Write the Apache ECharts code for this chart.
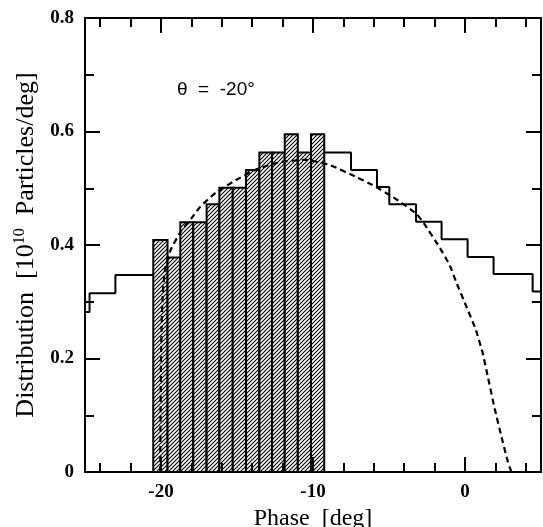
<!DOCTYPE html>
<html>
<head>
<meta charset="utf-8">
<script src="https://cdn.jsdelivr.net/npm/echarts@6/dist/echarts.min.js"></script>
<style>
html, body { margin: 0; padding: 0; background: #fff; }
#chart { width: 543px; height: 527px; }
</style>
</head>
<body>
<div id="chart"></div>
<script>
// hatched histogram: bin edges (deg) and heights
var barEdges = [-20.51, -19.57, -18.73, -17.88, -17.0, -16.16, -15.28, -14.41, -13.53, -12.69, -11.86, -11.0, -10.13, -9.26];
var barHeights = [0.409, 0.378, 0.440, 0.440, 0.472, 0.501, 0.501, 0.532, 0.563, 0.563, 0.595, 0.563, 0.595];

// solid histogram, part left of the hatched bins
var leftEdges = [-25, -24.7, -23.0, -20.51];
var leftHeights = [0.282, 0.315, 0.347];
// solid histogram, part right of the hatched bins
var rightEdges = [-9.26, -7.5, -5.79, -4.98, -3.22, -1.54, 0.17, 1.88, 4.45, 5];
var rightHeights = [0.563, 0.532, 0.502, 0.472, 0.441, 0.410, 0.379, 0.349, 0.318];

// dashed curve
var curveX = [-20.05, -20.03, -20.0, -19.95, -19.87, -19.75, -19.55, -19.34, -18.7, -18.0, -17.4, -16.4, -15.1, -13.75, -12.2, -10.5, -8.9, -7.1, -6.1, -4.6, -3.2, -2.7, -1.7, -1.0, -0.6, 0.07, 0.72, 1.16, 1.5, 1.95, 2.4, 2.8, 3.05];
var curveY = [0, 0.1, 0.2, 0.27, 0.32, 0.355, 0.377, 0.393, 0.424, 0.447, 0.468, 0.492, 0.514, 0.533, 0.546, 0.55, 0.541, 0.519, 0.506, 0.482, 0.455, 0.438, 0.397, 0.364, 0.336, 0.293, 0.25, 0.21, 0.168, 0.112, 0.062, 0.02, 0];

var minorTicks = [-24, -22, -20, -18, -16, -14, -12, -10, -8, -6, -4, -2, 0, 2, 4];
var majorTicks = [-20, -10, 0];

var serif = 'Liberation Serif';

// hatch pattern "/"
var hatch = document.createElement('canvas');
hatch.width = 4;
hatch.height = 4;
var hc = hatch.getContext('2d');
hc.fillStyle = '#fff';
hc.fillRect(0, 0, 4, 4);
hc.strokeStyle = '#000';
hc.lineWidth = 1.1;
hc.beginPath();
hc.moveTo(0, 4); hc.lineTo(4, 0);
hc.moveTo(-1, 1); hc.lineTo(1, -1);
hc.moveTo(3, 5); hc.lineTo(5, 3);
hc.stroke();
var hatchFill = { image: hatch, repeat: 'repeat' };

function steps(edges, heights) {
  var pts = [];
  for (var i = 0; i < heights.length; i++) {
    pts.push([edges[i], heights[i]]);
    pts.push([edges[i + 1], heights[i]]);
  }
  return pts;
}

var bars = [];
for (var i = 0; i < barHeights.length; i++) {
  bars.push([barEdges[i], barEdges[i + 1], barHeights[i]]);
}
var curve = curveX.map(function (x, i) { return [x, curveY[i]]; });

var chart = echarts.init(document.getElementById('chart'));

function xAx(pos, ticks, len, labels, main) {
  return {
    type: 'value', position: pos, min: -25, max: 5, z: 10,
    axisLine: { show: main, onZero: false, lineStyle: { color: '#000', width: 2 } },
    axisTick: { show: true, inside: true, length: len, customValues: ticks, lineStyle: { color: '#000', width: 2 } },
    axisLabel: labels ? {
      show: true, customValues: majorTicks, margin: 11,
      color: '#000', fontFamily: serif, fontWeight: 'bold', fontSize: 19
    } : { show: false },
    splitLine: { show: false },
    name: labels ? 'Phase  [deg]' : '',
    nameLocation: 'middle', nameGap: 27,
    nameTextStyle: { color: '#000', fontFamily: serif, fontSize: 24 }
  };
}

function yAx(pos, labels) {
  return {
    type: 'value', position: pos, min: 0, max: 0.8, interval: 0.2, z: 10,
    axisLine: { show: true, onZero: false, lineStyle: { color: '#000', width: 2 } },
    axisTick: { show: true, inside: true, length: 15, lineStyle: { color: '#000', width: 2 } },
    minorTick: { show: true, splitNumber: 2, length: 9, lineStyle: { color: '#000', width: 2 } },
    axisLabel: labels ? {
      show: true, margin: 11, color: '#000', fontFamily: serif, fontWeight: 'bold', fontSize: 19
    } : { show: false },
    splitLine: { show: false },
    minorSplitLine: { show: false },
    name: labels ? 'Distribution  [10{sup|10}  Particles/deg]' : '',
    nameLocation: 'middle', nameGap: 38,
    nameTextStyle: {
      color: '#000', fontFamily: serif, fontSize: 26,
      rich: { sup: { fontFamily: serif, fontSize: 16, verticalAlign: 'top', padding: [0, 0, 14, 0] } }
    }
  };
}

var option = {
  animation: false,
  backgroundColor: '#fff',
  grid: { left: 85, right: 2, top: 18, bottom: 55, outerBoundsMode: 'none', containLabel: false },
  xAxis: [
    xAx('bottom', minorTicks, 9, true, true),
    xAx('bottom', majorTicks, 15, false, false),
    xAx('top', minorTicks, 9, false, true),
    xAx('top', majorTicks, 15, false, false)
  ],
  yAxis: [yAx('left', true), yAx('right', false)],
  graphic: [{
    type: 'text', left: 177, top: 80,
    style: { text: 'θ  =  -20°', fill: '#000', font: '19px "Liberation Sans"' }
  }],
  series: [
    {
      type: 'custom', xAxisIndex: 0, yAxisIndex: 0, z: 3,
      data: bars,
      renderItem: function (params, api) {
        var p0 = api.coord([api.value(0), api.value(2)]);
        var p1 = api.coord([api.value(1), 0]);
        return {
          type: 'rect',
          shape: { x: p0[0], y: p0[1], width: p1[0] - p0[0], height: p1[1] - p0[1] },
          style: { fill: hatchFill, stroke: '#000', lineWidth: 2 }
        };
      }
    },
    {
      type: 'line', xAxisIndex: 0, yAxisIndex: 0, z: 4,
      data: steps(leftEdges, leftHeights), showSymbol: false,
      lineStyle: { color: '#000', width: 2 }
    },
    {
      type: 'line', xAxisIndex: 0, yAxisIndex: 0, z: 4,
      data: steps(rightEdges, rightHeights), showSymbol: false,
      lineStyle: { color: '#000', width: 2 }
    },
    {
      type: 'line', xAxisIndex: 0, yAxisIndex: 0, z: 5,
      data: curve, showSymbol: false, smooth: 0.15,
      lineStyle: { color: '#000', width: 2.2, type: [6, 4] }
    }
  ]
};
chart.setOption(option);
</script>
</body>
</html>
